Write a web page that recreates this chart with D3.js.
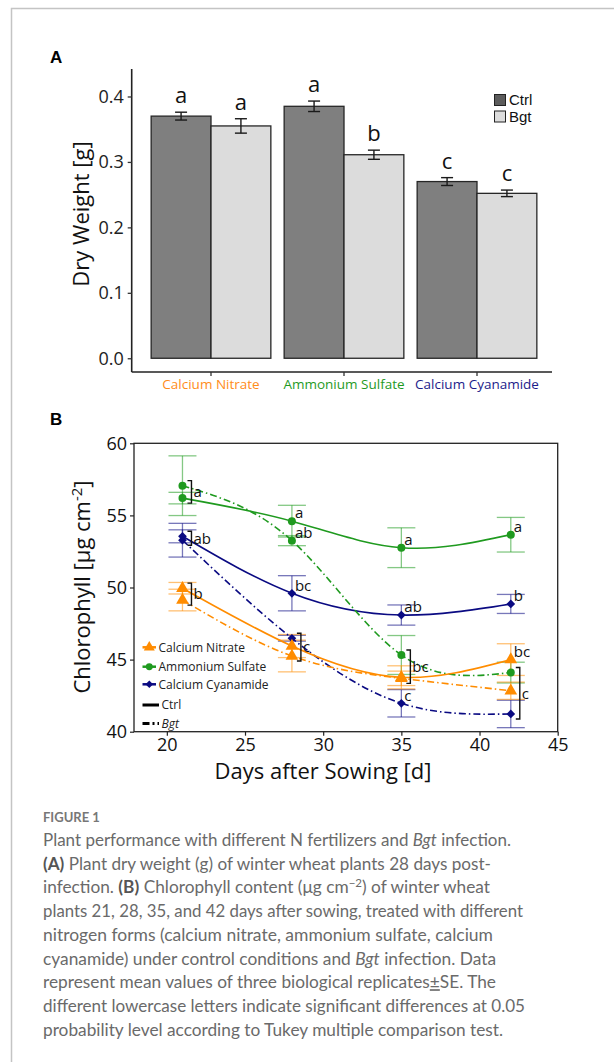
<!DOCTYPE html>
<html>
<head>
<meta charset="utf-8">
<script src="https://cdn.jsdelivr.net/npm/d3@7"></script>
<style>
  body { margin: 0; background: #fff; }
  svg { display: block; }
</style>
</head>
<body>
<svg id="fig" width="614" height="1062"></svg>
<script>
// ---- panel A data ----
const fertilizers = ["Calcium Nitrate", "Ammonium Sulfate", "Calcium Cyanamide"];
const treatments = ["Ctrl", "Bgt"];
const dryCtrl = [0.370, 0.385, 0.270];
const dryCtrlSE = [0.006, 0.008, 0.006];
const dryBgt = [0.355, 0.311, 0.252];
const dryBgtSE = [0.011, 0.007, 0.005];
const dryLetters = [["a", "a"], ["a", "b"], ["c", "c"]];
const dryTicks = [0.0, 0.1, 0.2, 0.3, 0.4];

// ---- panel B data ----
const days = [21, 28, 35, 42];
const nitrateCtrl = [49.95, 45.94, 43.77, 45.00];
const nitrateCtrlSE = [0.40, 0.80, 0.80, 1.10];
const nitrateBgt = [49.13, 45.25, 43.70, 42.84];
const nitrateBgtSE = [0.75, 1.10, 0.50, 0.60];
const sulfateCtrl = [56.20, 54.60, 52.76, 53.66];
const sulfateCtrlSE = [0.40, 1.10, 1.38, 1.20];
const sulfateBgt = [57.06, 53.25, 45.32, 44.10];
const sulfateBgtSE = [2.07, 0.35, 1.35, 0.72];
const cyanCtrl = [53.55, 49.60, 48.09, 48.86];
const cyanCtrlSE = [0.45, 1.22, 0.70, 0.66];
const cyanBgt = [53.28, 46.48, 41.97, 41.23];
const cyanBgtSE = [1.17, 0.20, 0.95, 0.95];
const chlXTicks = [20, 25, 30, 35, 40, 45];
const chlYTicks = [40, 45, 50, 55, 60];

// significance letters: day, letter, series that share it
const chlLetters = [
  [21, "a", ["sulfateCtrl", "sulfateBgt"]],
  [21, "ab", ["cyanCtrl", "cyanBgt"]],
  [21, "b", ["nitrateCtrl", "nitrateBgt"]],
  [28, "a", ["sulfateCtrl"]],
  [28, "ab", ["sulfateBgt"]],
  [28, "bc", ["cyanCtrl"]],
  [28, "c", ["cyanBgt", "nitrateCtrl", "nitrateBgt"]],
  [35, "a", ["sulfateCtrl"]],
  [35, "ab", ["cyanCtrl"]],
  [35, "bc", ["sulfateBgt", "nitrateCtrl", "nitrateBgt"]],
  [35, "c", ["cyanBgt"]],
  [42, "a", ["sulfateCtrl"]],
  [42, "b", ["cyanCtrl"]],
  [42, "bc", ["nitrateCtrl"]],
  [42, "c", ["sulfateBgt", "nitrateBgt", "cyanBgt"]]
];

const captionLines = [
  [["Plant performance with different N fertilizers and ", ""], ["Bgt", "i"], [" infection.", ""]],
  [["(A)", "b"], [" Plant dry weight (g) of winter wheat plants 28 days post-", ""]],
  [["infection. ", ""], ["(B)", "b"], [" Chlorophyll content (μg cm", ""], ["−2", "sup"], [") of winter wheat", ""]],
  [["plants 21, 28, 35, and 42 days after sowing, treated with different", ""]],
  [["nitrogen forms (calcium nitrate, ammonium sulfate, calcium", ""]],
  [["cyanamide) under control conditions and ", ""], ["Bgt", "i"], [" infection. Data", ""]],
  [["represent mean values of three biological replicates", ""], ["±", "u"], ["SE. The", ""]],
  [["different lowercase letters indicate significant differences at 0.05", ""]],
  [["probability level according to Tukey multiple comparison test.", ""]]
];
const captionWidths = [468, 448, 447, 480, 450, 453, 453, 482, 460];

const catColor = ["#ff8c1a", "#1f9a1f", "#1c1c8a"];
const svg = d3.select("#fig");
const chartFont = "'Open Sans', 'Noto Sans', sans-serif";

// frame
svg.append("path").attr("d", "M11.5,1062 V8.5 H614")
  .attr("fill", "none").attr("stroke", "#c4c4c4").attr("stroke-width", 1.5);

// ================= Panel A =================
svg.append("text").attr("x", 50).attr("y", 63).text("A")
  .attr("font-family", "'Liberation Sans', Arial").attr("font-weight", "bold").attr("font-size", 17);

const xA = d3.scaleBand().domain(fertilizers).range([144.5, 543.5]).paddingInner(0.1).paddingOuter(0.05);
const xAin = d3.scaleBand().domain(treatments).range([0, xA.bandwidth()]);
const yA = d3.scaleLinear().domain([-0.021, 0.442]).range([372, 69]);

const barRows = [];
fertilizers.forEach((f, i) => {
  barRows.push({ f, t: "Ctrl", v: dryCtrl[i], se: dryCtrlSE[i], l: dryLetters[i][0] });
  barRows.push({ f, t: "Bgt", v: dryBgt[i], se: dryBgtSE[i], l: dryLetters[i][1] });
});

const gA = svg.append("g");
gA.selectAll("rect.bar").data(barRows).join("rect")
  .attr("class", "bar")
  .attr("x", d => xA(d.f) + xAin(d.t))
  .attr("y", d => yA(d.v))
  .attr("width", xAin.bandwidth())
  .attr("height", d => yA(0) - yA(d.v))
  .attr("fill", d => d.t === "Ctrl" ? "#7f7f7f" : "#dcdcdc")
  .attr("stroke", "#262626").attr("stroke-width", 1.3);

const errA = gA.selectAll("g.err").data(barRows).join("g").attr("class", "err")
  .attr("transform", d => `translate(${xA(d.f) + xAin(d.t) + xAin.bandwidth() / 2},0)`)
  .attr("stroke", "#1a1a1a").attr("stroke-width", 1.4);
errA.append("line").attr("y1", d => yA(d.v - d.se)).attr("y2", d => yA(d.v + d.se));
errA.append("line").attr("x1", -6).attr("x2", 6).attr("y1", d => yA(d.v - d.se)).attr("y2", d => yA(d.v - d.se));
errA.append("line").attr("x1", -6).attr("x2", 6).attr("y1", d => yA(d.v + d.se)).attr("y2", d => yA(d.v + d.se));
gA.selectAll("text.sig").data(barRows).join("text").attr("class", "sig")
  .attr("x", d => xA(d.f) + xAin(d.t) + xAin.bandwidth() / 2)
  .attr("y", d => yA(d.v + d.se) - 9)
  .attr("text-anchor", "middle")
  .attr("font-family", chartFont).attr("font-size", 22).attr("fill", "#111")
  .text(d => d.l);

// axes A
const axA = svg.append("g").attr("transform", "translate(131.7,0)")
  .call(d3.axisLeft(yA).tickValues(dryTicks).tickFormat(d3.format(".1f")).tickSize(4).tickPadding(4));
axA.select(".domain").attr("d", "M0,69V372");
const axAx = svg.append("g").attr("transform", "translate(0,372)")
  .call(d3.axisBottom(xA).tickSize(4).tickPadding(3));
axAx.select(".domain").attr("d", "M131.7,0H552");
[axA, axAx].forEach(a => {
  a.select(".domain").attr("stroke", "#222").attr("stroke-width", 1.6);
  a.selectAll(".tick line").attr("stroke", "#333").attr("stroke-width", 1.3);
});
axA.selectAll(".tick text").attr("font-family", chartFont).attr("font-size", 18).attr("fill", "#222");
axAx.selectAll(".tick text").attr("font-family", chartFont).attr("font-size", 13.5)
  .attr("fill", (d, i) => catColor[i]);
svg.append("text").attr("transform", "translate(89,214) rotate(-90)")
  .attr("text-anchor", "middle").attr("font-family", chartFont).attr("font-size", 22).attr("fill", "#111")
  .text("Dry Weight [g]");

// legend A
treatments.forEach((t, i) => {
  svg.append("rect").attr("x", 494.5).attr("y", 94.5 + i * 16.5).attr("width", 11).attr("height", 11)
    .attr("fill", t === "Ctrl" ? "#5c5c5c" : "#dcdcdc").attr("stroke", "#222").attr("stroke-width", 1);
  svg.append("text").attr("x", 509).attr("y", 105 + i * 16.5).text(t)
    .attr("font-family", "'Liberation Sans', Arial").attr("font-size", 15).attr("fill", "#111");
});

// ================= Panel B =================
svg.append("text").attr("x", 50).attr("y", 425).text("B")
  .attr("font-family", "'Liberation Sans', Arial").attr("font-weight", "bold").attr("font-size", 17);

const xB = d3.scaleLinear().domain([17.9, 45]).range([134, 557.7]);
const yB = d3.scaleLinear().domain([40, 60]).range([731.7, 443.3]);

const series = {
  nitrateCtrl: { v: nitrateCtrl, se: nitrateCtrlSE, c: "#ff8c00", sym: d3.symbolTriangle, size: 70, rot: 0, dash: null },
  nitrateBgt: { v: nitrateBgt, se: nitrateBgtSE, c: "#ff8c00", sym: d3.symbolTriangle, size: 70, rot: 0, dash: "7,3,1.5,3" },
  sulfateCtrl: { v: sulfateCtrl, se: sulfateCtrlSE, c: "#1f9a1f", sym: d3.symbolCircle, size: 50, rot: 0, dash: null },
  sulfateBgt: { v: sulfateBgt, se: sulfateBgtSE, c: "#1f9a1f", sym: d3.symbolCircle, size: 50, rot: 0, dash: "7,3,1.5,3" },
  cyanCtrl: { v: cyanCtrl, se: cyanCtrlSE, c: "#0a0a82", sym: d3.symbolSquare, size: 38, rot: 45, dash: null },
  cyanBgt: { v: cyanBgt, se: cyanBgtSE, c: "#0a0a82", sym: d3.symbolSquare, size: 38, rot: 45, dash: "7,3,1.5,3" }
};
const order = ["cyanBgt", "cyanCtrl", "sulfateBgt", "sulfateCtrl", "nitrateBgt", "nitrateCtrl"];

const gB = svg.append("g");
// error bars
order.forEach(k => {
  const s = series[k];
  const g = gB.append("g").attr("stroke", s.c).attr("stroke-opacity", 0.55).attr("stroke-width", 1.3);
  days.forEach((d, i) => {
    const x = xB(d), lo = yB(s.v[i] - s.se[i]), hi = yB(s.v[i] + s.se[i]);
    g.append("line").attr("x1", x).attr("x2", x).attr("y1", lo).attr("y2", hi);
    g.append("line").attr("x1", x - 14).attr("x2", x + 14).attr("y1", lo).attr("y2", lo);
    g.append("line").attr("x1", x - 14).attr("x2", x + 14).attr("y1", hi).attr("y2", hi);
  });
});
// curves
const line = d3.line().x((d, i) => xB(days[i])).y(d => yB(d)).curve(d3.curveNatural);
order.forEach(k => {
  const s = series[k];
  gB.append("path").attr("d", line(s.v)).attr("fill", "none")
    .attr("stroke", s.c).attr("stroke-width", 1.6)
    .attr("stroke-dasharray", s.dash);
});
// markers
order.forEach(k => {
  const s = series[k];
  gB.selectAll(null).data(s.v).join("path")
    .attr("transform", (d, i) => `translate(${xB(days[i])},${yB(d)}) rotate(${s.rot})`)
    .attr("d", d3.symbol().type(s.sym).size(s.size))
    .attr("fill", s.c);
});

// letters + brackets
chlLetters.forEach(([day, txt, keys]) => {
  const i = days.indexOf(day);
  const vals = keys.map(k => series[k].v[i]);
  const x = xB(day);
  if (keys.length > 1) {
    const top = yB(d3.max(vals) + 0.35), bot = yB(d3.min(vals) - 0.35);
    const bx = x + 9;
    gB.append("path").attr("d", `M${bx - 4},${top}H${bx}V${bot}H${bx - 4}`)
      .attr("fill", "none").attr("stroke", "#111").attr("stroke-width", 1.4);
    gB.append("text").attr("x", bx + 2).attr("y", (top + bot) / 2).attr("dy", "0.35em")
      .attr("font-family", chartFont).attr("font-size", 15).attr("fill", "#111").text(txt);
  } else {
    gB.append("text").attr("x", x + 3).attr("y", yB(vals[0]) - 8).attr("dy", "0.35em")
      .attr("font-family", chartFont).attr("font-size", 15).attr("fill", "#111").text(txt);
  }
});

// axes B
svg.append("rect").attr("x", 134).attr("y", 443.3).attr("width", 557.7 - 134).attr("height", 731.7 - 443.3)
  .attr("fill", "none").attr("stroke", "#222").attr("stroke-width", 1.3);
const axBy = svg.append("g").attr("transform", "translate(134,0)")
  .call(d3.axisLeft(yB).tickValues(chlYTicks).tickSize(4).tickPadding(3));
const axBx = svg.append("g").attr("transform", "translate(0,731.7)")
  .call(d3.axisBottom(xB).tickValues(chlXTicks).tickSize(4).tickPadding(3));
[axBy, axBx].forEach(a => {
  a.select(".domain").remove();
  a.selectAll(".tick line").attr("stroke", "#222").attr("stroke-width", 1.2);
  a.selectAll(".tick text").attr("font-family", chartFont).attr("font-size", 18).attr("fill", "#111");
});
svg.append("text").attr("transform", "translate(90,587) rotate(-90)")
  .attr("text-anchor", "middle").attr("font-family", chartFont).attr("font-size", 22).attr("fill", "#111")
  .call(t => {
    t.append("tspan").text("Chlorophyll [μg cm");
    t.append("tspan").attr("dy", -8).attr("font-size", 15).text("-2");
    t.append("tspan").attr("dy", 8).text("]");
  });
svg.append("text").attr("x", 323).attr("y", 779).attr("text-anchor", "middle")
  .attr("font-family", chartFont).attr("font-size", 22).attr("fill", "#111").text("Days after Sowing [d]");

// legend B
const legB = [
  ["Calcium Nitrate", "nitrateCtrl"], ["Ammonium Sulfate", "sulfateCtrl"], ["Calcium Cyanamide", "cyanCtrl"]
];
const legY = [647.3, 666.7, 684.3, 705, 723.5];
legB.forEach(([name, k], i) => {
  const s = series[k];
  svg.append("line").attr("x1", 142.5).attr("x2", 156).attr("y1", legY[i]).attr("y2", legY[i])
    .attr("stroke", s.c).attr("stroke-width", 2.5);
  svg.append("path").attr("transform", `translate(149.3,${legY[i]}) rotate(${s.rot})`)
    .attr("d", d3.symbol().type(s.sym).size(s.size * 0.75)).attr("fill", s.c);
  svg.append("text").attr("x", 158.5).attr("y", legY[i]).attr("dy", "0.35em").text(name)
    .attr("font-family", chartFont).attr("font-size", 12).attr("fill", "#222");
});
svg.append("line").attr("x1", 142.5).attr("x2", 159).attr("y1", legY[3]).attr("y2", legY[3])
  .attr("stroke", "#000").attr("stroke-width", 3);
svg.append("text").attr("x", 161.5).attr("y", legY[3]).attr("dy", "0.35em").text("Ctrl")
  .attr("font-family", chartFont).attr("font-size", 12).attr("fill", "#222");
svg.append("line").attr("x1", 142.5).attr("x2", 159).attr("y1", legY[4]).attr("y2", legY[4])
  .attr("stroke", "#000").attr("stroke-width", 3).attr("stroke-dasharray", "7,3,2,3");
svg.append("text").attr("x", 161.5).attr("y", legY[4]).attr("dy", "0.35em").text("Bgt")
  .attr("font-family", chartFont).attr("font-size", 12).attr("font-style", "italic").attr("fill", "#222");

// ================= Caption =================
svg.append("text").attr("x", 43).attr("y", 821.5).text("FIGURE 1")
  .attr("font-family", "Lato, 'Open Sans', sans-serif").attr("font-weight", "bold")
  .attr("font-size", 13).attr("fill", "#777");

captionLines.forEach((parts, li) => {
  const t = svg.append("text").attr("x", 43).attr("y", 846 + li * 23.7)
    .attr("font-family", "Lato, 'Open Sans', sans-serif").attr("font-size", 16.5).attr("fill", "#6a6a6a")
    .attr("textLength", captionWidths[li]).attr("lengthAdjust", "spacingAndGlyphs");
  parts.forEach(([s, style]) => {
    const sp = t.append("tspan").text(s);
    if (style === "b") sp.attr("font-weight", "bold").attr("fill", "#555");
    if (style === "i") sp.attr("font-style", "italic");
    if (style === "sup") sp.attr("font-size", 11).attr("baseline-shift", "super");
    if (style === "u") sp.attr("text-decoration", "underline");
  });
});
</script>
</body>
</html>
